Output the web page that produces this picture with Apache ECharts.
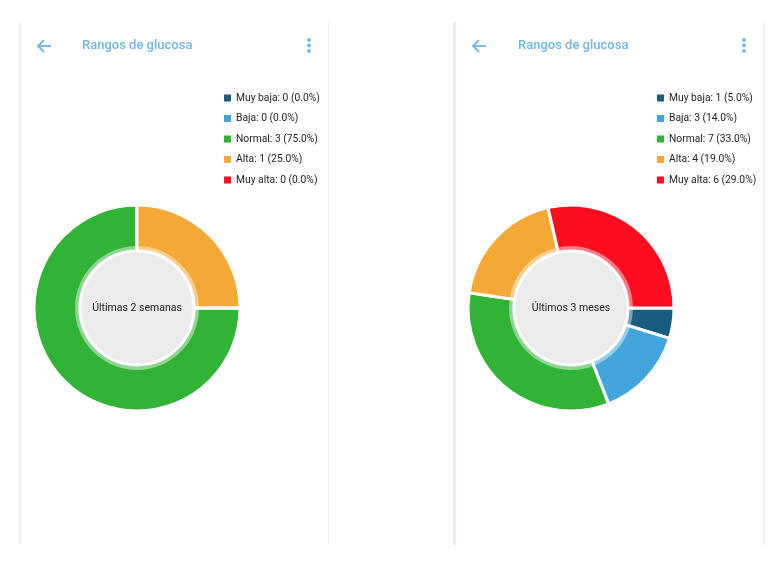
<!DOCTYPE html>
<html>
<head>
<meta charset="utf-8">
<script src="https://cdn.jsdelivr.net/npm/echarts@6/dist/echarts.min.js"></script>
<style>
html,body{margin:0;padding:0;background:#fff;}
#c{width:778px;height:564px;}
</style>
</head>
<body>
<div id="c"></div>
<script>
var categories = ['Muy baja', 'Baja', 'Normal', 'Alta', 'Muy alta'];
var colors = ['#1a5c80', '#42a6dd', '#31b335', '#f4a836', '#fd0d1f'];
var leftValues = [0, 0, 3, 1, 0];
var leftPercents = ['0.0%', '0.0%', '75.0%', '25.0%', '0.0%'];
var rightValues = [1, 3, 7, 4, 6];
var rightPercents = ['5.0%', '14.0%', '33.0%', '19.0%', '29.0%'];
var leftCenterLabel = 'Últimas 2 semanas';
var rightCenterLabel = 'Últimos 3 meses';
var screenTitle = 'Rangos de glucosa';

var FONT = 'Roboto, "Noto Sans", sans-serif';
var chart = echarts.init(document.getElementById('c'), null, {renderer: 'canvas'});

function mkData(vals) {
  return categories.map(function (n, i) {
    return {name: n, value: vals[i], itemStyle: {color: colors[i]}};
  });
}
function lookup(name, vals, pcts) {
  var i = categories.indexOf(name);
  return name + ': ' + vals[i] + ' (' + pcts[i] + ')';
}
function pieSeries(center, vals) {
  return [{
    type: 'pie',
    center: center,
    radius: [57, 103],
    startAngle: 0,
    clockwise: true,
    silent: true,
    label: {show: false},
    labelLine: {show: false},
    emphasis: {disabled: true},
    stillShowZeroSum: false,
    itemStyle: {borderColor: '#ffffff', borderWidth: 3},
    data: mkData(vals)
  }, {
    type: 'pie',
    center: center,
    radius: [57, 62],
    startAngle: 0,
    clockwise: true,
    silent: true,
    label: {show: false},
    labelLine: {show: false},
    emphasis: {disabled: true},
    itemStyle: {color: 'rgba(255,255,255,0.45)', borderWidth: 0},
    legendHoverLink: false,
    data: categories.map(function (n, i) { return {name: n + ' ', value: vals[i]}; })
  }];
}

function header(arrowX, titleX, dotsX) {
  var c = '#6db6e5';
  return [
    {type: 'polyline', shape: {points: [[arrowX + 6, 40], [arrowX, 46], [arrowX + 6, 52]]},
      style: {stroke: c, lineWidth: 1.8, fill: null}},
    {type: 'line', shape: {x1: arrowX, y1: 46, x2: arrowX + 13, y2: 46},
      style: {stroke: c, lineWidth: 1.8}},
    {type: 'text', x: titleX, y: 46, style: {text: screenTitle, fill: c,
      font: '500 13px ' + FONT, textVerticalAlign: 'middle', verticalAlign: 'middle'}},
    {type: 'circle', shape: {cx: dotsX, cy: 40, r: 1.9}, style: {fill: c}},
    {type: 'circle', shape: {cx: dotsX, cy: 45.5, r: 1.9}, style: {fill: c}},
    {type: 'circle', shape: {cx: dotsX, cy: 51, r: 1.9}, style: {fill: c}}
  ];
}

var lineColor = '#e8eef7';
var centerFont = '10.5px ' + FONT;
var graphics = [
  {type: 'rect', shape: {x: 19, y: 22, width: 2, height: 521}, style: {fill: lineColor}},
  {type: 'rect', shape: {x: 328, y: 22, width: 1, height: 521}, style: {fill: lineColor}},
  {type: 'rect', shape: {x: 453, y: 22, width: 3, height: 523}, style: {fill: lineColor}},
  {type: 'rect', shape: {x: 763, y: 22, width: 1.5, height: 523}, style: {fill: lineColor}},
  {type: 'circle', z: -1, shape: {cx: 137, cy: 308, r: 58}, style: {fill: '#ebebeb'}},
  {type: 'circle', z: -1, shape: {cx: 571, cy: 308, r: 58}, style: {fill: '#ebebeb'}},
  {type: 'text', x: 137, y: 308, z: 10, style: {text: leftCenterLabel, fill: '#222',
    font: centerFont, textAlign: 'center', align: 'center', verticalAlign: 'middle', textVerticalAlign: 'middle'}},
  {type: 'text', x: 571, y: 308, z: 10, style: {text: rightCenterLabel, fill: '#222',
    font: centerFont, textAlign: 'center', align: 'center', verticalAlign: 'middle', textVerticalAlign: 'middle'}}
].concat(header(38, 82, 309)).concat(header(473, 518, 744));

function legend(left, vals, pcts) {
  return {
    orient: 'vertical',
    left: left,
    top: 87,
    padding: 5,
    itemWidth: 7,
    itemHeight: 7,
    itemGap: 8.5,
    icon: 'rect',
    selectedMode: false,
    itemStyle: {borderWidth: 0},
    data: categories,
    textStyle: {fontFamily: FONT, fontSize: 10.3, color: '#222', lineHeight: 12},
    formatter: function (name) { return lookup(name, vals, pcts); }
  };
}

chart.setOption({
  animation: false,
  legend: [legend(219, leftValues, leftPercents), legend(652, rightValues, rightPercents)],
  graphic: graphics,
  series: pieSeries([137, 308], leftValues).concat(pieSeries([571, 308], rightValues))
});
</script>
</body>
</html>
